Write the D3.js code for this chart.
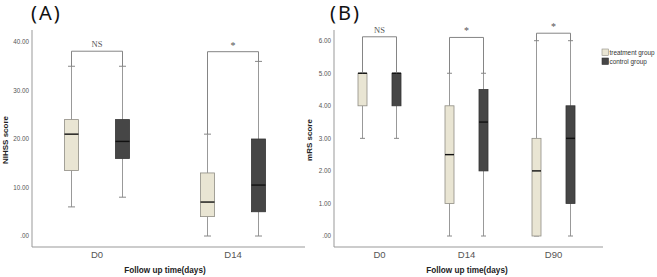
<!DOCTYPE html>
<html>
<head>
<meta charset="utf-8">
<script src="https://cdn.jsdelivr.net/npm/d3@7"></script>
<style>
  html, body { margin: 0; padding: 0; background: #fff; }
  svg { display: block; font-family: "Liberation Sans", Arial, sans-serif; }
</style>
</head>
<body>
<svg id="chart" width="657" height="277"></svg>
<script>
// boxes: [min, q1, median, q3, max]
const NIHSS_DAYS  = ["D0", "D14"];
const NIHSS_TREAT = [[6, 13.5, 21, 24, 35], [0, 4, 7, 13, 21]];
const NIHSS_CTRL  = [[8, 16, 19.5, 24, 35], [0, 5, 10.5, 20, 36]];
const NIHSS_SIG   = ["NS", "*"];
const NIHSS_BRACKET = [38.1, 38];
const NIHSS_TICKS = [0, 10, 20, 30, 40];

const MRS_DAYS  = ["D0", "D14", "D90"];
const MRS_TREAT = [[3, 4, 5, 5, 5], [0, 1, 2.5, 4, 5], [0, 0, 2, 3, 6]];
const MRS_CTRL  = [[3, 4, 5, 5, 5], [0, 2, 3.5, 4.5, 5], [0, 1, 3, 4, 6]];
const MRS_SIG   = ["NS", "*", "*"];
const MRS_BRACKET = [6.12, 6.1, 6.23];
const MRS_TICKS = [0, 1, 2, 3, 4, 5, 6];

const GROUPS = ["treatment group", "control group"];
const FILLS  = ["#e9e5d3", "#464646"];
const STROKES = ["#8f8d84", "#333"];

const svg = d3.select("#chart");
const fmt = v => v === 0 ? ".00" : d3.format(".2f")(v);

function drawPanel(opt) {
    const g = svg.append("g");

    const x = d3.scaleBand().domain(opt.days).range(opt.xRange);
    const y = d3.scaleLinear().domain(opt.yDomain).range([236, opt.yTop]);

    // axes lines
    g.append("line").attr("x1", opt.axisX).attr("x2", opt.axisX)
        .attr("y1", 30).attr("y2", 247).attr("stroke", "#999");
    g.append("line").attr("x1", opt.axisX).attr("x2", opt.axisEnd)
        .attr("y1", 247).attr("y2", 247).attr("stroke", "#999");

    // tick labels
    g.selectAll(".tick").data(opt.ticks).join("text")
        .attr("x", opt.axisX - 3)
        .attr("y", d => y(d) + 2.3)
        .attr("text-anchor", "end")
        .attr("font-size", "6.3px")
        .attr("fill", "#555")
        .text(fmt);

    // category labels
    g.selectAll(".cat").data(opt.days).join("text")
        .attr("x", d => x(d) + x.bandwidth() / 2)
        .attr("y", 258)
        .attr("text-anchor", "middle")
        .attr("font-size", "9.5px")
        .attr("fill", "#555")
        .text(d => d);

    // axis titles
    g.append("text")
        .attr("x", opt.titleX).attr("y", 273)
        .attr("text-anchor", "middle")
        .attr("font-size", "8.2px").attr("font-weight", "bold").attr("fill", "#222")
        .text("Follow up time(days)");
    g.append("text")
        .attr("transform", `translate(${opt.yLabelX},140) rotate(-90)`)
        .attr("text-anchor", "middle")
        .attr("font-size", "8px").attr("font-weight", "bold").attr("fill", "#222")
        .text(opt.yLabel);

    // panel letter
    g.append("text")
        .attr("x", opt.letterX).attr("y", 20)
        .attr("font-size", "20px").attr("letter-spacing", "2px")
        .attr("font-family", "'Noto Sans', sans-serif")
        .attr("fill", "#111")
        .text(opt.letter);

    // boxes
    [opt.treat, opt.ctrl].forEach((series, gi) => {
        series.forEach((b, i) => {
            const [mn, q1, md, q3, mx] = b;
            const cx = x(opt.days[i]) + x.bandwidth() / 2 + (gi === 0 ? -opt.offset : opt.offset);
            const w = opt.boxW;
            const cap = opt.capW;
            // whiskers
            g.append("line").attr("x1", cx).attr("x2", cx)
                .attr("y1", y(mx)).attr("y2", y(q3)).attr("stroke", "#999");
            g.append("line").attr("x1", cx).attr("x2", cx)
                .attr("y1", y(q1)).attr("y2", y(mn)).attr("stroke", "#999");
            [mn, mx].forEach(v => {
                g.append("line").attr("x1", cx - cap / 2).attr("x2", cx + cap / 2)
                    .attr("y1", y(v)).attr("y2", y(v)).attr("stroke", "#888");
            });
            g.append("rect")
                .attr("x", cx - w / 2).attr("y", y(q3))
                .attr("width", w).attr("height", Math.max(0.5, y(q1) - y(q3)))
                .attr("fill", FILLS[gi]).attr("stroke", STROKES[gi]).attr("stroke-width", 0.8);
            g.append("line").attr("x1", cx - w / 2).attr("x2", cx + w / 2)
                .attr("y1", y(md)).attr("y2", y(md))
                .attr("stroke", "#111").attr("stroke-width", 1.4);
        });
    });

    // significance brackets
    opt.days.forEach((d, i) => {
        const c = x(d) + x.bandwidth() / 2;
        const x1 = c - opt.offset, x2 = c + opt.offset;
        const yb = y(opt.bracket[i]);
        g.append("path")
            .attr("d", `M${x1},${y(opt.treat[i][4])}V${yb}H${x2}V${y(opt.ctrl[i][4])}`)
            .attr("fill", "none").attr("stroke", "#777").attr("stroke-width", 0.9);
        g.append("text")
            .attr("x", (x1 + x2) / 2)
            .attr("y", yb - (opt.sig[i] === "*" ? 3 : 4))
            .attr("text-anchor", "middle")
            .attr("font-family", "'Liberation Serif', serif")
            .attr("font-size", opt.sig[i] === "*" ? "10px" : "8.5px")
            .attr("fill", "#555")
            .text(opt.sig[i]);
    });
}

drawPanel({
    days: NIHSS_DAYS, treat: NIHSS_TREAT, ctrl: NIHSS_CTRL, sig: NIHSS_SIG,
    bracket: NIHSS_BRACKET, ticks: NIHSS_TICKS, yDomain: [0, 40], yTop: 42,
    xRange: [29, 301], axisX: 32, axisEnd: 305, offset: 25.5, boxW: 14, capW: 7,
    titleX: 165, yLabelX: 8, yLabel: "NIHSS score", letter: "(A)", letterX: 31
});

drawPanel({
    days: MRS_DAYS, treat: MRS_TREAT, ctrl: MRS_CTRL, sig: MRS_SIG,
    bracket: MRS_BRACKET, ticks: MRS_TICKS, yDomain: [0, 6], yTop: 40.7,
    xRange: [336, 597], axisX: 334, axisEnd: 603, offset: 17, boxW: 9, capW: 5,
    titleX: 467, yLabelX: 312, yLabel: "mRS score", letter: "(B)", letterX: 330
});

// legend
const legend = svg.append("g").attr("transform", "translate(602,49)");
GROUPS.forEach((name, i) => {
    legend.append("rect")
        .attr("x", 0).attr("y", i * 9)
        .attr("width", 6.5).attr("height", 6.5)
        .attr("fill", FILLS[i]).attr("stroke", STROKES[i]).attr("stroke-width", 0.6);
    legend.append("text")
        .attr("x", 7.5).attr("y", i * 9 + 6)
        .attr("font-size", "6.4px").attr("fill", "#333")
        .text(name);
});
</script>
</body>
</html>
